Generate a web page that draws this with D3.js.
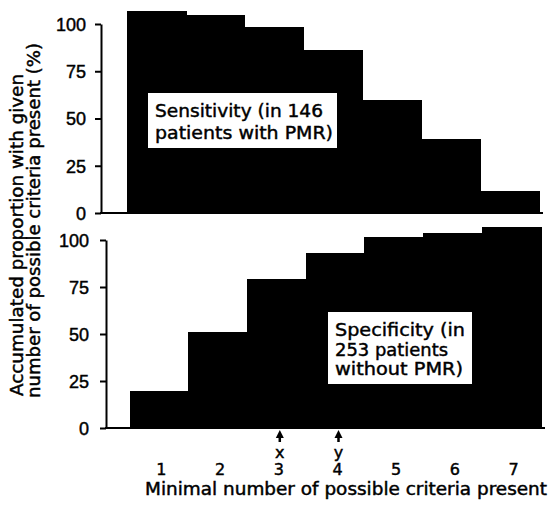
<!DOCTYPE html>
<html lang="en">
<head>
  <meta charset="UTF-8" />
  <title>Sensitivity and specificity by number of criteria</title>
  <style>
    body { margin: 0; background: #fff; }
    svg { display: block; }
    text { font-family: "DejaVu Sans", sans-serif; fill: #000; stroke: #000; stroke-width: 0.45px; }
    .axis text { font-family: "Liberation Sans Narrow", "Liberation Sans", sans-serif; font-size: 18px; }
    .axis path, .axis line { stroke: #000; stroke-width: 2; }
  </style>
</head>
<body>
  <svg id="chart"></svg>

  <script src="https://d3js.org/d3.v7.min.js"></script>
  <script>
    // data (% accumulated)
    const criteria = [1, 2, 3, 4, 5, 6, 7];
    const sensitivity = [107, 105, 98.5, 86, 60, 39, 11.5];
    const specificity = [19.5, 51, 79, 93, 101.5, 103.5, 107];
    const yTicks = [0, 25, 50, 75, 100];
    const markers = [{ at: 3, label: "x" }, { at: 4, label: "y" }];

    const W = 552, H = 514;
    const svg = d3.select("#chart").attr("width", W).attr("height", H);

    function panel(values, o) {
      const x = d3.scaleBand().domain(criteria).range([o.x0, o.x1]).padding(0);
      const y = d3.scaleLinear().domain([0, 100]).range([o.base, o.top]);

      svg.selectAll(null)
        .data(values)
        .join("rect")
        .attr("x", (d, i) => Math.floor(x(criteria[i])))
        .attr("y", d => y(d))
        .attr("width", x.bandwidth() + 1.5)
        .attr("height", d => y(0) - y(d))
        .attr("fill", "#000")
        .attr("shape-rendering", "crispEdges");

      svg.append("g")
        .attr("class", "axis")
        .attr("transform", `translate(${o.axisX},0)`)
        .call(d3.axisLeft(y).tickValues(yTicks).tickSize(6).tickSizeOuter(0).tickPadding(o.pad))
        .call(g => g.selectAll(".tick text").attr("dy", "0.36em"));

      svg.append("line")
        .attr("x1", o.axisX - 1).attr("x2", o.x1 + 4)
        .attr("y1", y(0)).attr("y2", y(0))
        .attr("stroke", "#000").attr("stroke-width", 2);

      return x;
    }

    panel(sensitivity, { x0: 127, x1: 539, base: 213, top: 24, axisX: 101, pad: 9 });
    const xb = panel(specificity, { x0: 130, x1: 541, base: 428, top: 240, axisX: 106, pad: 11 });

    // category numbers
    svg.selectAll(null)
      .data(criteria)
      .join("text")
      .attr("x", d => xb(d) + xb.bandwidth() / 2 + 2)
      .attr("y", 475)
      .attr("text-anchor", "middle")
      .attr("font-size", "16px")
      .text(d => d);

    // x / y arrows
    const mk = svg.selectAll(null).data(markers).join("g")
      .attr("transform", d => `translate(${xb(d.at) + xb.bandwidth() / 2 + 3},0)`);
    mk.append("path").attr("d", "M0,430L-4,438L4,438Z").attr("fill", "#000");
    mk.append("line").attr("x1", 0).attr("x2", 0).attr("y1", 436).attr("y2", 442)
      .attr("stroke", "#000").attr("stroke-width", 2.5);
    mk.append("text").attr("y", 458).attr("text-anchor", "middle")
      .attr("font-size", "16px").text(d => d.label);

    // axis titles
    svg.append("text")
      .attr("x", 145).attr("y", 495)
      .attr("font-size", "17px")
      .attr("textLength", 402).attr("lengthAdjust", "spacingAndGlyphs")
      .text("Minimal number of possible criteria present");

    const yTitle = svg.append("g").attr("transform", "rotate(-90)");
    yTitle.append("text")
      .attr("x", -396).attr("y", 23)
      .attr("font-size", "17px")
      .attr("textLength", 322).attr("lengthAdjust", "spacingAndGlyphs")
      .text("Accumulated proportion with given");
    yTitle.append("text")
      .attr("x", -398).attr("y", 40)
      .attr("font-size", "17px")
      .attr("textLength", 355).attr("lengthAdjust", "spacingAndGlyphs")
      .text("number of possible criteria present (%)");

    // boxed annotations
    function note(box, lines, widths, lead) {
      svg.append("rect")
        .attr("x", box[0]).attr("y", box[1]).attr("width", box[2]).attr("height", box[3])
        .attr("fill", "#fff");
      svg.selectAll(null).data(lines).join("text")
        .attr("x", box[0] + 7)
        .attr("y", (d, i) => box[1] + 24 + i * lead)
        .attr("font-size", "18px")
        .attr("textLength", (d, i) => widths[i]).attr("lengthAdjust", "spacingAndGlyphs")
        .text(d => d);
    }
    note([148, 93, 189, 55], ["Sensitivity (in 146", "patients with PMR)"], [168, 178], 21.5);
    note([328, 312, 144, 72], ["Specificity (in", "253 patients", "without PMR)"], [130, 113, 128], 19.7);
  </script>
</body>
</html>
